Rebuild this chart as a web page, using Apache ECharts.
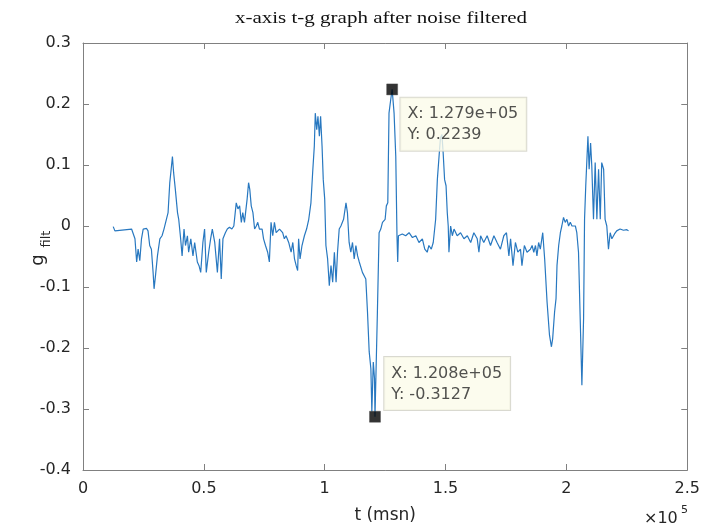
<!DOCTYPE html>
<html><head><meta charset="utf-8">
<script src="https://cdn.jsdelivr.net/npm/echarts@6/dist/echarts.min.js"></script>
<style>html,body{margin:0;padding:0;background:#fff}#c{width:703px;height:529px}</style>
</head><body><div id="c"></div>
<script>
// ---- data ----
const tVals = [
 12500,13200,20100,21500,22200,22800,23500,24200,24900,26300,26900,27600,28300,29000,29400,30000,30800,31800,32700,33500,
 34500,35200,35900,36600,37000,37500,38200,39100,39600,40400,41000,41800,42400,43200,43700,44600,45500,46200,47300,48000,
 48700,49600,50300,51000,52000,52800,53500,54500,55600,56500,57200,57900,58900,59700,60600,61600,62400,63400,64100,64800,
 65500,66100,66800,67900,68500,69000,69600,70300,71000,71700,72300,73000,74100,74700,75500,76400,77100,77800,78500,79200,
 79900,81300,82600,83300,84000,85100,86100,86800,87500,88200,88800,89200,89800,90600,91600,92500,93400,94300,95000,95700,
 96100,96700,97200,97800,98300,98900,99400,100000,100500,101200,101900,102600,103300,104000,104700,105300,106000,106700,107800,108800,
 109400,110100,110800,111500,112200,112900,113600,114300,115600,116300,117000,117700,118400,119100,119500,120100,120600,120800,121800,122500,
 123200,123900,125000,125500,126100,126600,127300,127900,128700,129400,129900,130200,130500,130800,132100,133500,134900,136300,137700,139000,
 140400,141400,142400,143100,144100,144900,145900,146600,147300,147900,148500,149000,149600,150200,150700,151100,151400,152100,152800,153500,
 154800,156200,157600,159000,160400,161700,163100,163800,164500,165800,167200,168600,170000,171300,172700,174100,175200,176200,176900,177900,
 178900,179900,181000,181600,182600,183700,185100,185800,186500,187200,187800,188500,189200,190200,191000,192000,193000,193800,194300,195100,
 195700,196100,196800,197500,198100,198800,199500,200200,200900,201600,202300,203000,203700,204300,205000,205700,206400,207100,207500,208000,
 208900,209400,210000,210500,211200,211900,212600,213300,214000,214600,215400,216000,216700,217400,218100,218800,219900,220800,222200,223600,
 225000,225700
];
const gVals = [
 -0.001,-0.008,-0.005,-0.021,-0.059,-0.038,-0.057,-0.021,-0.005,-0.004,-0.008,-0.032,-0.038,-0.076,-0.103,-0.081,-0.049,-0.021,-0.016,-0.005,
 0.011,0.022,0.071,0.098,0.114,0.087,0.060,0.022,0.011,-0.021,-0.049,-0.005,-0.032,-0.016,-0.043,-0.021,-0.049,-0.027,-0.059,-0.065,
 -0.076,-0.027,-0.005,-0.076,-0.043,-0.021,-0.005,-0.027,-0.076,-0.021,-0.087,-0.021,-0.011,-0.005,-0.002,-0.005,0.000,0.038,0.028,0.033,
 0.006,0.022,0.006,0.044,0.071,0.060,0.033,0.022,-0.005,0.000,0.006,-0.005,-0.005,-0.021,-0.032,-0.043,-0.059,0.006,-0.016,0.006,
 -0.011,-0.005,-0.011,-0.021,-0.016,-0.027,-0.043,-0.027,-0.054,-0.065,-0.073,-0.021,-0.054,-0.032,-0.016,-0.005,0.011,0.038,0.087,0.131,
 0.185,0.158,0.180,0.147,0.180,0.131,0.076,0.044,-0.032,-0.054,-0.098,-0.065,-0.092,-0.043,-0.092,-0.043,-0.005,0.000,0.011,0.038,
 0.022,-0.027,-0.043,-0.027,-0.054,-0.032,-0.049,-0.059,-0.076,-0.076,-0.087,-0.141,-0.206,-0.234,-0.304,-0.223,-0.250,-0.3127,-0.141,-0.011,
 -0.005,0.006,0.011,0.033,0.038,0.185,0.207,0.2239,0.185,0.114,-0.016,-0.059,-0.016,-0.016,-0.013,-0.016,-0.011,-0.019,-0.016,-0.027,
 -0.021,-0.038,-0.043,-0.032,-0.038,-0.027,0.011,0.076,0.114,0.145,0.150,0.120,0.076,0.066,0.022,0.000,-0.043,0.000,-0.016,-0.005,
 -0.016,-0.011,-0.021,-0.016,-0.027,-0.011,-0.021,-0.043,-0.016,-0.027,-0.016,-0.032,-0.016,-0.027,-0.038,-0.016,-0.011,-0.049,-0.021,-0.065,
 -0.027,-0.043,-0.038,-0.065,-0.032,-0.043,-0.038,-0.032,-0.043,-0.032,-0.049,-0.027,-0.038,-0.011,-0.054,-0.125,-0.179,-0.198,-0.185,-0.141,
 -0.119,-0.065,-0.032,-0.011,0.000,0.014,0.006,0.011,0.000,0.006,0.000,0.003,0.000,-0.011,-0.043,-0.152,-0.261,-0.152,0.011,0.066,
 0.147,0.093,0.136,0.098,0.011,0.104,0.011,0.093,0.011,0.104,0.093,0.011,0.000,-0.038,-0.011,-0.021,-0.013,-0.008,-0.005,-0.007,
 -0.006,-0.008
];
const tipT = [127900, 120800];
const tipG = [0.2239, -0.3127];
const tipText = ['X: 1.279e+05\nY: 0.2239', 'X: 1.208e+05\nY: -0.3127'];
const xTickLabels = ['0', '0.5', '1', '1.5', '2', '2.5'];
const titleText = 'x-axis t-g graph after noise filtered';
const xName = 't (msn)';
const yNameMain = 'g';
const yNameSub = 'filt';
const xExpBase = '\u00d710';
const xExpPow = '5';

// ---- chart ----
const lineData = tVals.map((t, i) => [t, gVals[i]]);
const axisCol = '#808080';
const txtCol = '#262626';
const sans = 'DejaVu Sans';

function baseX(show, pos) {
  return {
    type: 'value', min: 0, max: 250000, interval: 50000, position: pos,
    axisLine: { show: true, onZero: false, lineStyle: { color: axisCol, width: 1 } },
    axisTick: { show: true, inside: true, length: 6, lineStyle: { color: axisCol } },
    splitLine: { show: false },
    axisLabel: {
      show: show, margin: 11, color: txtCol, fontSize: 16, fontFamily: sans,
      formatter: v => xTickLabels[Math.round(v / 50000)]
    }
  };
}
function baseY(show, pos) {
  return {
    type: 'value', min: -0.4, max: 0.3, interval: 0.1, position: pos,
    axisLine: { show: true, onZero: false, lineStyle: { color: axisCol, width: 1 } },
    axisTick: { show: true, inside: true, length: 6, lineStyle: { color: axisCol } },
    splitLine: { show: false },
    axisLabel: {
      show: show, margin: 12, color: txtCol, fontSize: 16, fontFamily: sans,
      formatter: v => { const r = Math.round(v * 10) / 10; return r === 0 ? '0' : String(r); }
    }
  };
}

const chart = echarts.init(document.getElementById('c'), null, { renderer: 'canvas' });
const xb = baseX(true, 'bottom');
xb.name = xName; xb.nameLocation = 'middle'; xb.nameGap = 37;
xb.nameTextStyle = { color: txtCol, fontSize: 17, fontFamily: sans };

chart.setOption({
  animation: false,
  backgroundColor: '#ffffff',
  grid: { left: 83, right: 14, top: 43, bottom: 57, containLabel: false },
  xAxis: [xb, baseX(false, 'top')],
  yAxis: [baseY(true, 'left'), baseY(false, 'right')],
  graphic: [
    { type: 'text', x: 381, y: 18, scaleX: 1.2, z: 10,
      style: { text: titleText, fill: '#111', font: '17.5px "Liberation Serif"', align: 'center', verticalAlign: 'middle' } },
    { type: 'text', x: 38, y: 260, rotation: Math.PI / 2, z: 10,
      style: { text: yNameMain, fill: txtCol, font: '18px "DejaVu Sans"', align: 'center', verticalAlign: 'middle' } },
    { type: 'text', x: 47, y: 239, rotation: Math.PI / 2, z: 10,
      style: { text: yNameSub, fill: txtCol, font: '13px "DejaVu Sans"', align: 'center', verticalAlign: 'middle' } },
    { type: 'text', x: 644, y: 519, z: 10,
      style: { text: xExpBase, fill: txtCol, font: '16px "DejaVu Sans"', align: 'left', verticalAlign: 'middle' } },
    { type: 'text', x: 681, y: 510, z: 10,
      style: { text: xExpPow, fill: txtCol, font: '11px "DejaVu Sans"', align: 'left', verticalAlign: 'middle' } }
  ],
  series: [
    { type: 'line', data: lineData, xAxisIndex: 0, yAxisIndex: 0, showSymbol: false, symbol: 'none',
      lineStyle: { color: '#2878c0', width: 1.2 }, z: 2 },
    { type: 'scatter', xAxisIndex: 0, yAxisIndex: 0, symbol: 'rect', symbolSize: 11, z: 5,
      itemStyle: { color: '#000', borderColor: '#444', borderWidth: 0.5 },
      data: [
        { value: [tipT[0], tipG[0]], label: { show: true, formatter: tipText[0], position: [14, 14], align: 'left', verticalAlign: 'top' } },
        { value: [tipT[1], tipG[1]], label: { show: true, formatter: tipText[1], position: [15, -1], align: 'left', verticalAlign: 'bottom' } }
      ],
      label: {
        color: txtCol, fontSize: 16, fontFamily: sans, lineHeight: 21,
        backgroundColor: '#fbfbea', borderColor: '#cfcfc4', borderWidth: 1,
        padding: [6, 8, 5, 7]
      }
    }
  ]
});
</script></body></html>
